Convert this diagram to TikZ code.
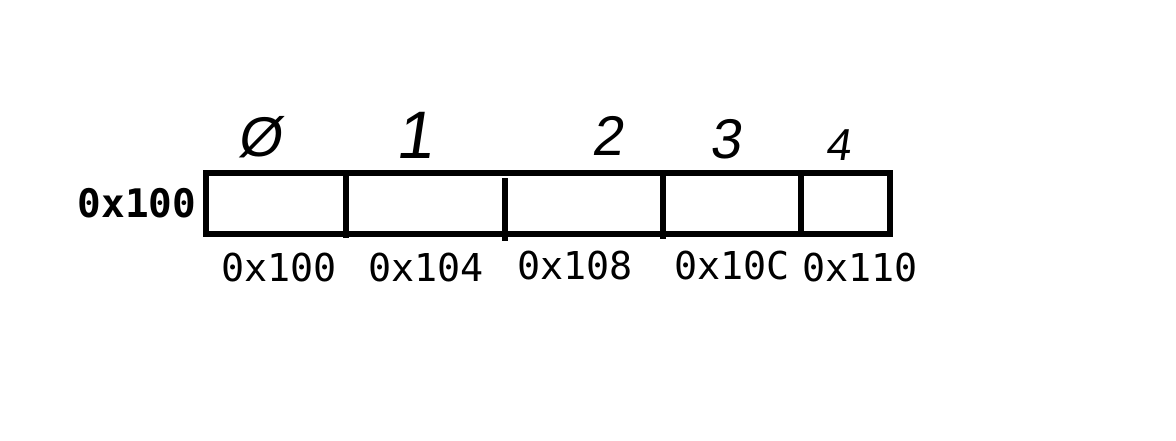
\documentclass[tikz,border=0pt]{standalone}
\usepackage{fontspec}
\newfontfamily\addrfont{DejaVu Sans Mono}
\newfontfamily\handfont{Liberation Sans}
\usetikzlibrary{positioning}

\begin{document}
\begin{tikzpicture}[
  x=0.75pt, y=-0.75pt,
  every node/.style={inner sep=0pt},
  cellline/.style={line width=3.9pt},
  addr/.style={font=\addrfont\fontsize{28.8}{31}\selectfont},
  idx/.style={font=\handfont\fontsize{42}{44}\selectfont, xslant=0.15}]
\useasboundingbox (0,0) rectangle (1176,440);

%% Array frame and the cell dividers
\coordinate (nw) at (206,173);
\coordinate (se) at (890,234);
\draw[cellline] (nw) rectangle (se);
\foreach \x/\t/\b in {346/173/238, 505/178/241, 663/173/239, 801/173/234}{
  \draw[cellline] (\x,\t) -- (\x,\b);
}

%% Base address of the array
\node[font=\addrfont\bfseries\fontsize{29.5}{31}\selectfont] (base) at (137,203) {0x100};

%% Element addresses under each cell
\foreach \x/\y/\t [count=\i from 0] in {279/268/0x100, 426/268/0x104, 575/266/0x108,
                                         732/266/0x10C, 860/268/0x110}{
  \node[addr] (addr\i) at (\x,\y) {\t};
}

%% Indices written above the cells
\node[idx] (idx0) at (262,137) {Ø};
\node[idx, scale=1.2] (idx1) at (418,135) {1};
\node[idx] (idx2) at (610,136) {2};
\node[idx] (idx3) at (728,139) {3};
\node[idx, scale=0.8] (idx4) at (840,145) {4};
\end{tikzpicture}
\end{document}
